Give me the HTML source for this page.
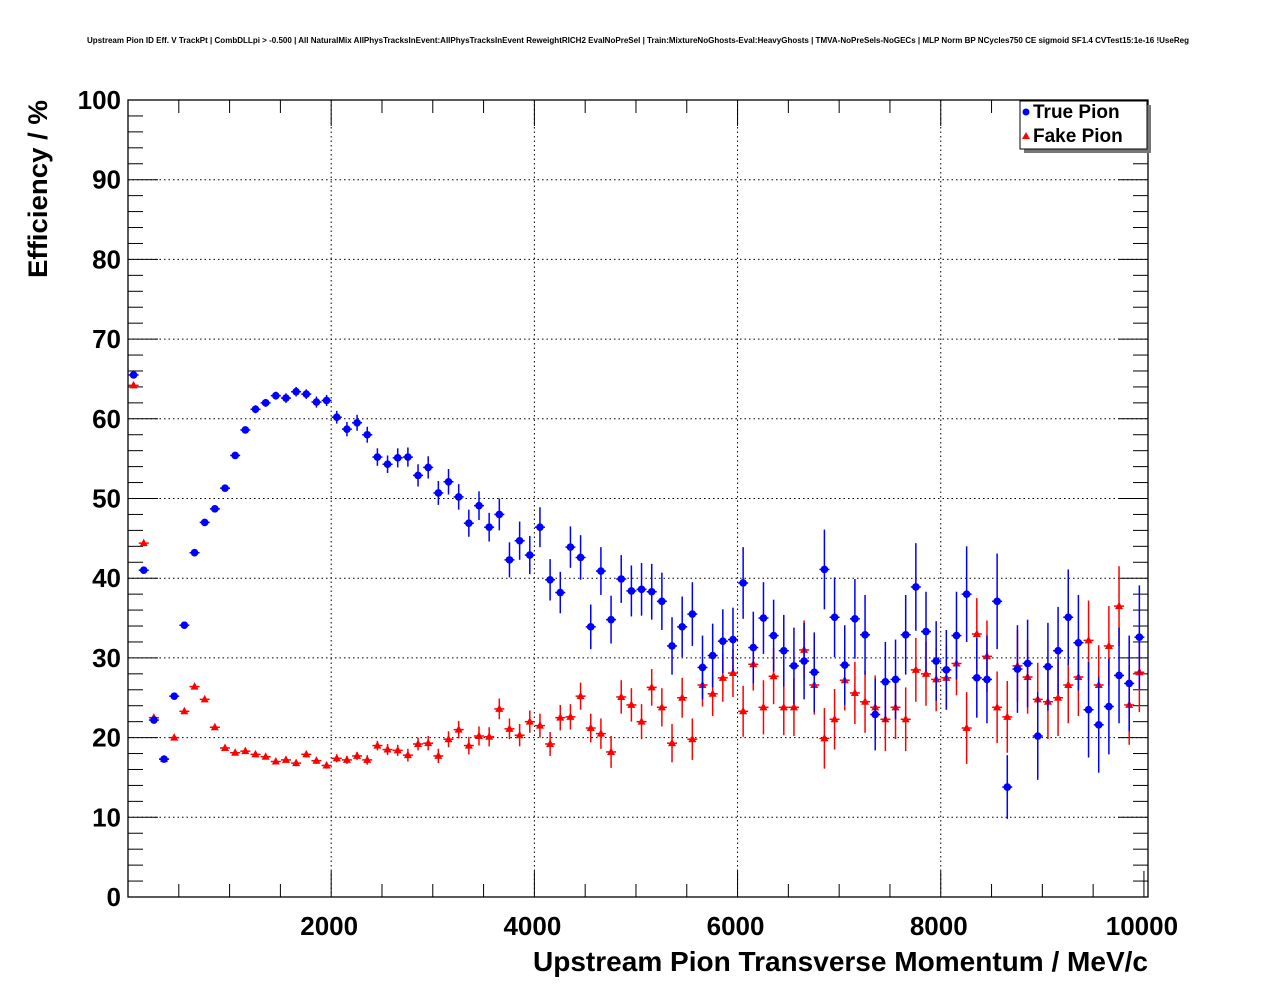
<!DOCTYPE html>
<html><head><meta charset="utf-8"><style>
body{margin:0;background:#fff;}
svg{display:block;font-family:"Liberation Sans",Arial,sans-serif;}
</style></head><body>
<svg id="c" width="1276" height="996" viewBox="0 0 1276 996">
<text x="638" y="43" font-size="8" font-weight="bold" text-anchor="middle" textLength="1102" lengthAdjust="spacingAndGlyphs">Upstream Pion ID Eff. V TrackPt | CombDLLpi &gt; -0.500 | All NaturalMix AllPhysTracksInEvent:AllPhysTracksInEvent ReweightRICH2 EvalNoPreSel | Train:MixtureNoGhosts-Eval:HeavyGhosts | TMVA-NoPreSels-NoGECs | MLP Norm BP NCycles750 CE sigmoid SF1.4 CVTest15:1e-16 !UseReg</text>
<g id="grid"></g>
<g id="axes"></g>
<g id="marks"></g>
<text transform="translate(47,278) rotate(-90)" font-size="27" font-weight="bold" textLength="178" lengthAdjust="spacingAndGlyphs">Efficiency / %</text>
<text x="1148" y="971" font-size="28" font-weight="bold" text-anchor="end" textLength="615" lengthAdjust="spacingAndGlyphs">Upstream Pion Transverse Momentum / MeV/c</text>
<g>
<rect x="1024" y="105" width="127" height="48" fill="#777"/>
<rect x="1020" y="101" width="127" height="48" fill="#fff" stroke="#000" stroke-width="1"/>
<g><circle cx="1026" cy="112" r="3.5" fill="#00f"/><text x="1033" y="118" font-size="19" font-weight="bold">True Pion</text></g>
<g><polygon points="1026,132 1030,139 1022,139" fill="#f00"/><text x="1033" y="142" font-size="19" font-weight="bold">Fake Pion</text></g>
</g>
</svg>
<script>
const trueEff=[65.5,41,22.2,17.3,25.2,34.1,43.2,47,48.7,51.3,55.4,58.6,61.2,62,62.9,62.6,63.4,63.1,62.1,62.3,60.2,58.7,59.5,58,55.2,54.3,55.1,55.2,52.9,53.9,50.7,
52.1,50.2,46.9,49.1,46.4,48,42.3,44.7,42.9,46.4,39.8,38.2,43.9,42.6,
33.9,40.9,34.8,39.9,38.4,38.6,38.3,37.1,31.5,33.9,35.5,28.8,30.3,32.1,32.3,39.4,31.3,35,32.8,30.9,
29,29.6,28.2,41.1,35.1,29.1,34.9,32.9,22.9,27,27.3,32.9,38.9,33.3,29.6,28.5,32.8,38,27.5,27.3,37.1,13.8,28.6,29.3,20.2,28.9,30.9,35.1,31.9,23.5,21.6,23.9,27.8,26.8,32.6];
const trueErr=[0.4,0.4,0.3,0.3,0.3,0.3,0.3,0.3,0.3,0.3,0.4,0.4,0.5,0.5,0.5,0.6,0.6,0.6,0.7,0.7,
0.8,0.9,1.0,1.0,1.1,1.1,1.2,1.2,1.4,1.4,1.5,
1.6,1.6,1.7,1.8,1.8,2,2.2,2.4,2.4,2.5,2.6,2.6,2.6,2.8,
2.8,3,3,3,3.2,3.3,3.5,3.6,3.6,3.8,4,4,4,4,4,4.5,4.5,4.5,4.5,4.5,
4.8,4.8,5,5,5,5,5,5,4.5,5,5,5,5.5,5,5,5,5.5,6,5,5.5,6,4,5.5,5.5,5.5,5.5,5.5,6,6,6,6,6,6,6,6.5];
const fakeEff=[64.2,44.4,22.5,17.3,20,23.3,26.4,24.8,21.3,18.7,18.1,18.3,17.9,17.6,17,17.2,16.8,17.9,17.1,16.5,17.4,17.2,17.7,17.2,19,18.5,18.4,17.8,19.2,19.3,17.7,
19.8,21,19,20.2,20.1,23.6,21.1,20.3,22,21.5,19.2,22.5,22.6,25.2,
21.2,20.5,18.2,25.1,24.1,22,26.3,23.8,19.3,25,19.8,26.6,25.5,27.5,28.1,23.3,29.2,23.8,27.7,23.8,
23.8,31,26.6,19.9,22.3,27.2,25.6,24.5,23.8,22.3,23.8,22.3,28.5,28,27.3,27.5,29.3,21.2,33,30.2,23.8,22.6,29,27.6,24.8,24.5,25,26.6,27.6,32.2,26.6,31.5,36.5,24.1,28.2];
const fakeErr=[0.3,0.3,0.3,0.3,0.3,0.3,0.3,0.3,0.3,0.3,0.3,0.3,0.3,0.3,0.3,0.3,0.4,0.4,0.4,0.4,0.5,0.5,0.5,0.6,0.6,0.7,0.7,0.8,0.8,0.9,0.9,
1,1.1,1.1,1.2,1.2,1.3,1.3,1.4,1.4,1.5,1.5,1.6,1.6,1.7,
1.8,1.9,2,2.1,2.1,2.2,2.3,2.4,2.4,2.5,2.6,2.7,2.8,3,3,3.2,3.3,3.4,3.5,3.5,
3.6,3.7,3.7,3.8,3.8,3.8,3.9,3.9,4,4,4,4,4,4,4,4,4,4.5,4.5,4.5,4.5,4.5,4.5,4.6,4.6,4.7,4.8,4.8,4.9,5,5,5,5,5,5];
const binWidth=100;
const xTickLabels=[2000,4000,6000,8000,10000];
const yTickLabels=[0,10,20,30,40,50,60,70,80,90,100];

const L=128,R=1148,T=100,B=897,XMAX=10040;
const sx=v=>L+v/XMAX*(R-L);
const sy=v=>B-v/100*(B-T);
const NS='http://www.w3.org/2000/svg';
function mk(tag,attrs,parent){const e=document.createElementNS(NS,tag);for(const k in attrs)e.setAttribute(k,attrs[k]);parent.appendChild(e);return e;}
const grid=document.getElementById('grid'),axes=document.getElementById('axes'),marks=document.getElementById('marks');

for(const v of [2000,4000,6000,8000]){
  const g=mk('line',{x1:sx(v),x2:sx(v),y1:T,y2:B,stroke:'#000','stroke-dasharray':'1.5,3','stroke-width':1},grid);
  
  
}
for(let v=10;v<100;v+=10){
  const g=mk('line',{x1:L,x2:R,y1:sy(v),y2:sy(v),stroke:'#000','stroke-dasharray':'1.5,3','stroke-width':1},grid);
  
  
}
const fr=mk('rect',{x:L,y:T,width:R-L,height:B-T,fill:'none',stroke:'#000','stroke-width':1.3},axes);


for(let v=500;v<=10000;v+=500){
  const len=(v%2000===0)?26:13;
  mk('line',{x1:sx(v),x2:sx(v),y1:B,y2:B-len,stroke:'#000','stroke-width':1},axes);
  mk('line',{x1:sx(v),x2:sx(v),y1:T,y2:T+len,stroke:'#000','stroke-width':1},axes);
}
xTickLabels.forEach(v=>{
  const t=mk('text',{x:sx(v)-2,y:935,'font-size':26,'font-weight':'bold','text-anchor':'middle'},axes);
  t.textContent=v;
  
  
});
for(let v=0;v<=100;v+=2){
  const len=(v%10===0)?30:15;
  mk('line',{x1:L,x2:L+len,y1:sy(v),y2:sy(v),stroke:'#000','stroke-width':1},axes);
  mk('line',{x1:R,x2:R-len,y1:sy(v),y2:sy(v),stroke:'#000','stroke-width':1},axes);
}
yTickLabels.forEach(v=>{
  const t=mk('text',{x:121,y:sy(v)+9,'font-size':26,'font-weight':'bold','text-anchor':'end'},axes);
  t.textContent=v;
  
  
});
function series(vals,errs,color,shape,name){
  const g=mk('g',{},marks);
  
  
  vals.forEach((v,i)=>{
    const c=binWidth*(i+0.5);
    const x=sx(c)+0.5,y=sy(v);
    mk('line',{x1:x-5,x2:x+5,y1:y,y2:y,stroke:color,'stroke-width':1.5},g);
    mk('line',{x1:x,x2:x,y1:sy(v-errs[i]),y2:sy(v+errs[i]),stroke:color,'stroke-width':1.5},g);
    let m;
    if(shape==='circle') m=mk('circle',{cx:x,cy:y,r:3.8,fill:color},g);
    else m=mk('polygon',{points:`${x},${y-4.5} ${x+4},${y+3} ${x-4},${y+3}`,fill:color},g);
    
    
  });
}
series(fakeEff,fakeErr,'#f00','tri','fake-pion-series');
series(trueEff,trueErr,'#00f','circle','true-pion-series');
</script>
</body></html>
